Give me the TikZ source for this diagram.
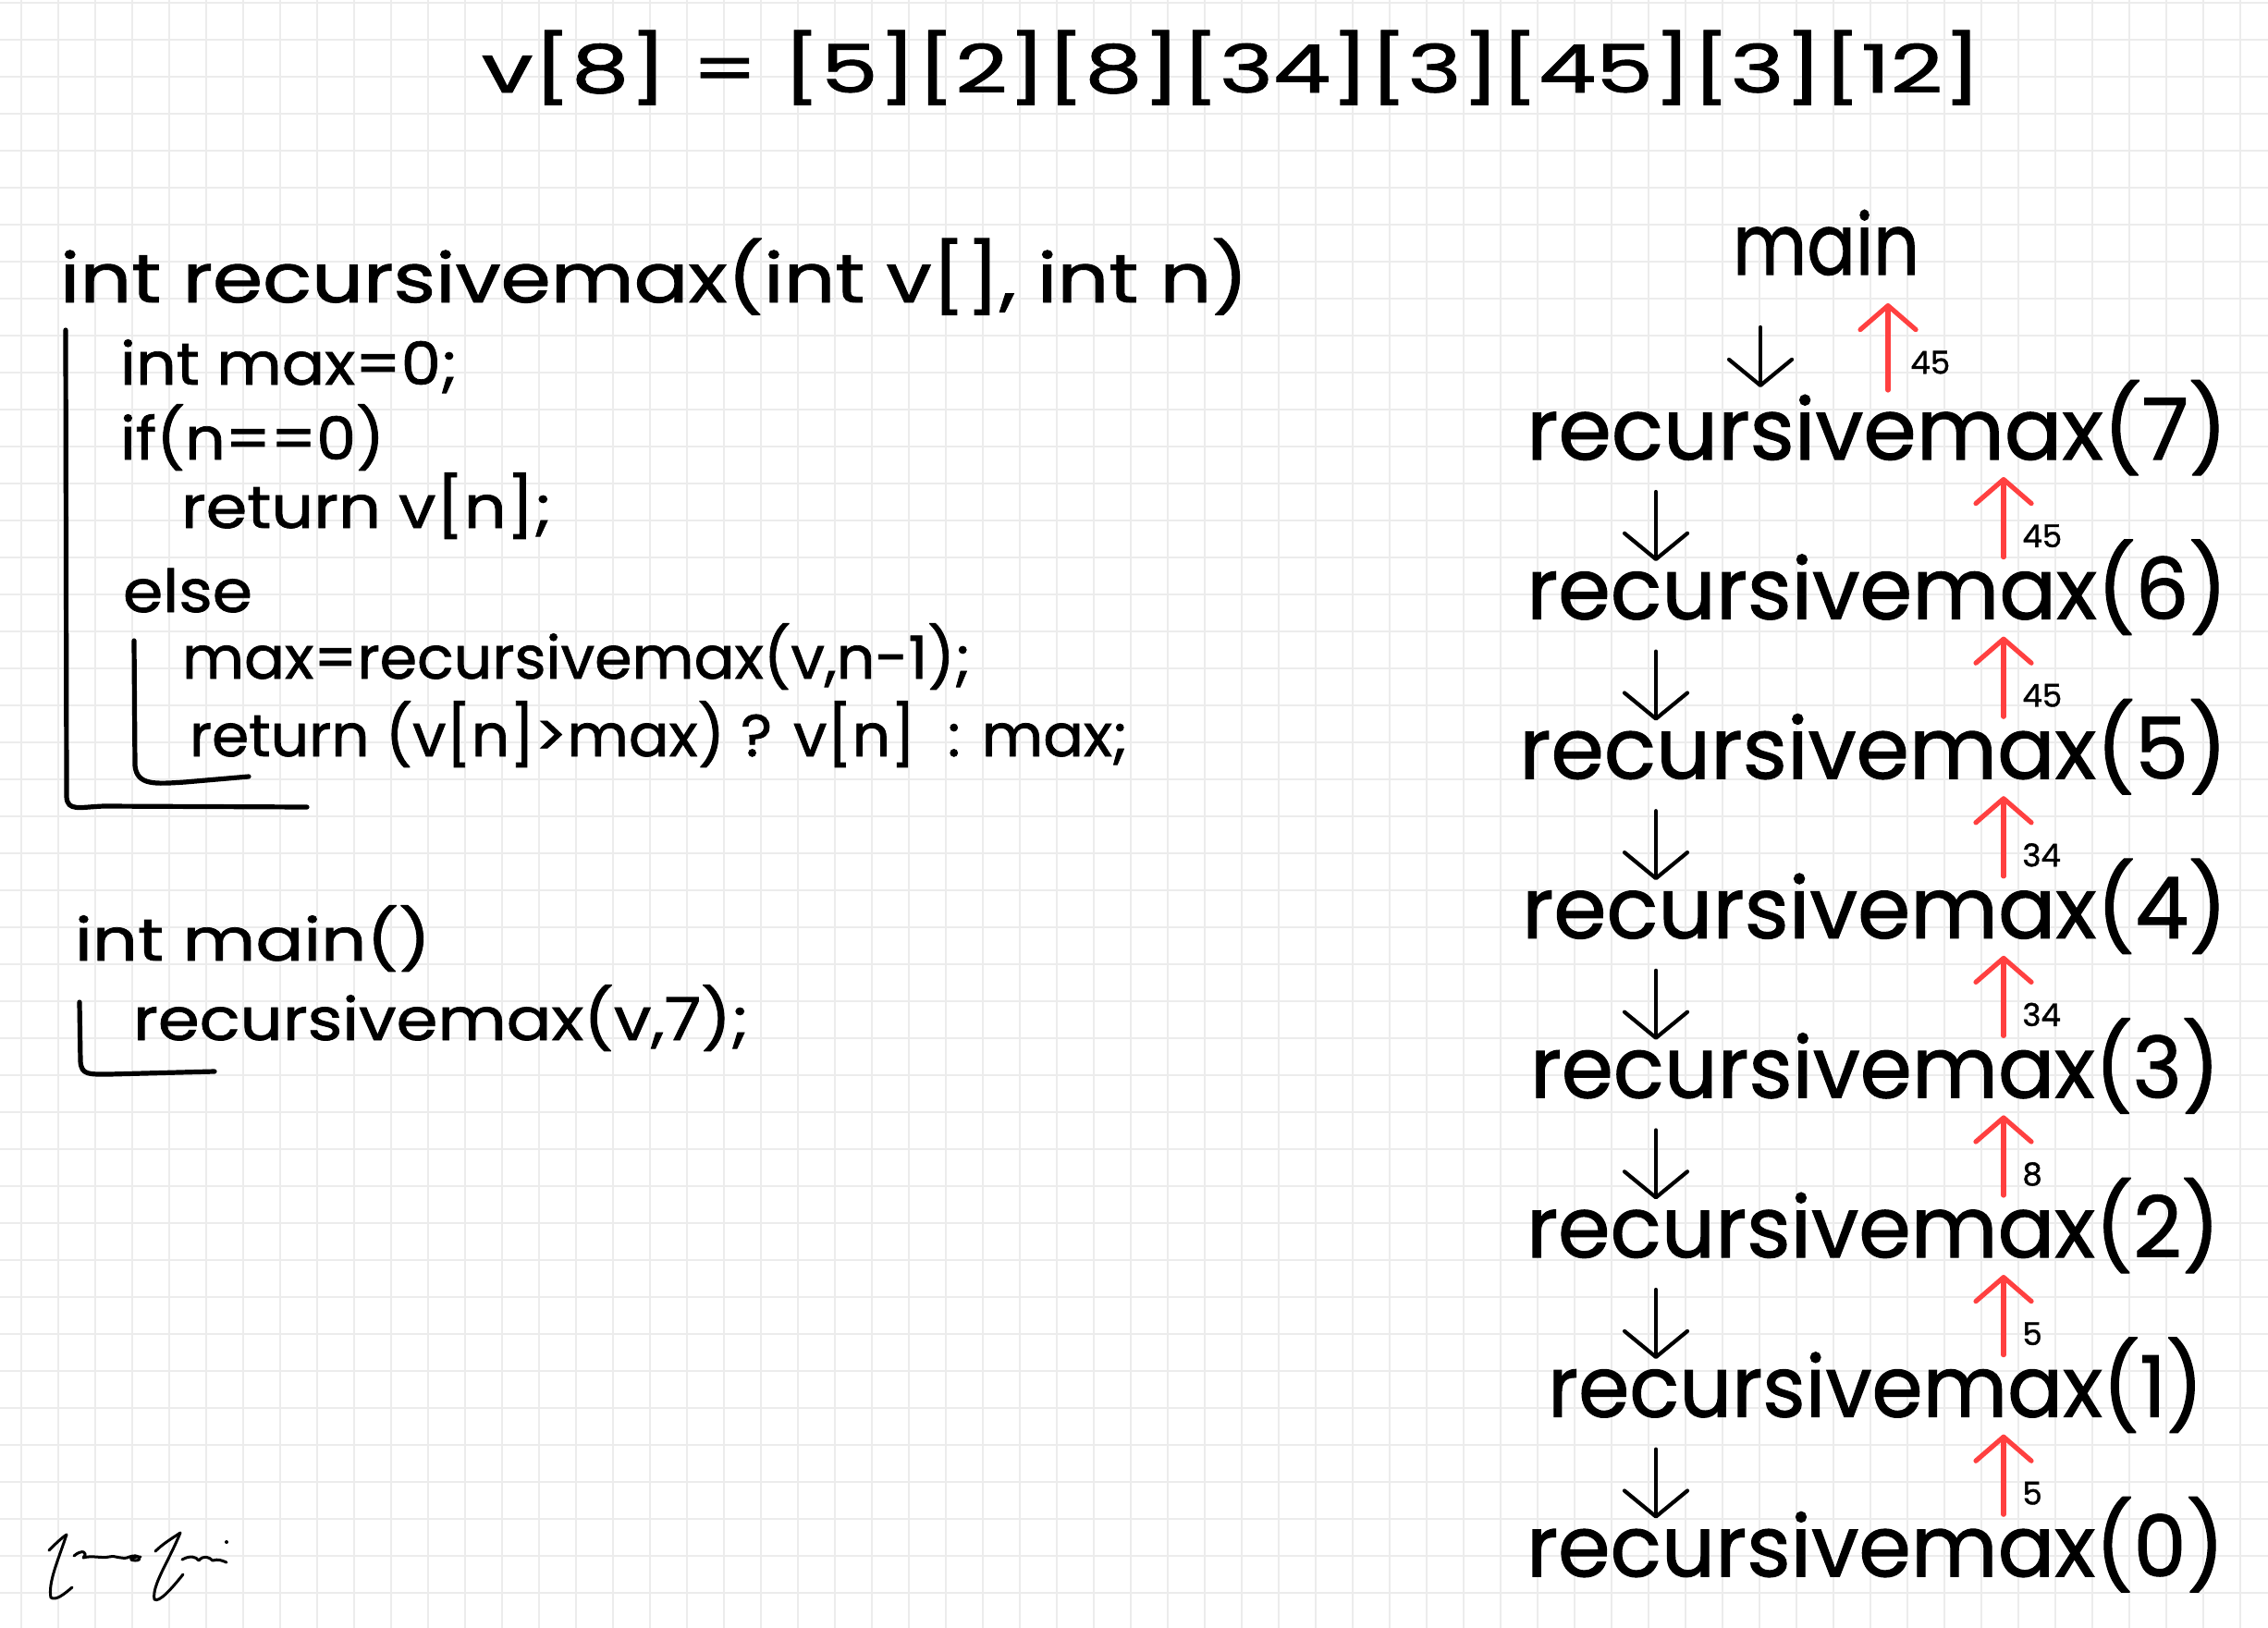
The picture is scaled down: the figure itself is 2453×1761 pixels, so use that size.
\documentclass[tikz,border=0pt]{standalone}
\usepackage{fontspec}
\setmainfont{Poppins}[FakeBold=1.2]
\usepackage{graphicx}
\usetikzlibrary{arrows.meta}
\definecolor{gridc}{HTML}{ECECEC}
\definecolor{retred}{HTML}{FF4040}
\newcommand\fitw[2]{\resizebox{#1}{\height}{#2}}
\tikzset{
  gridline/.style={draw=gridc, line width=1pt},
  txt/.style={inner sep=0pt, outer sep=0pt, anchor=base west, text=black},
  titletxt/.style={txt, font=\fontsize{36}{40}\selectfont},
  headtxt/.style={txt, font=\fontsize{37}{44}\selectfont},
  codetxt/.style={txt, font=\fontsize{32}{38}\selectfont},
  calltxt/.style={txt, font=\fontsize{46}{54}\selectfont},
  labtxt/.style={inner sep=0pt, anchor=west, font=\fontsize{17}{20}\selectfont},
  brk/.style={line width=2.6pt, line cap=round, line join=round},
  callarrow/.style={line width=2.1pt, line cap=round,
    -{Straight Barb[length=14pt, width=34pt, round]}},
  retarrow/.style={draw=retred, line width=2.6pt, line cap=round,
    -{Straight Barb[length=13pt, width=30pt, round]}},
  sig/.style={line width=1.5pt, line cap=round, line join=round},
}
\begin{document}
\begin{tikzpicture}[x=0.5pt, y=-0.5pt]
\useasboundingbox (0,0) rectangle (2453,1761);
\fill[white] (0,0) rectangle (2453,1761);
% grid
\foreach \i in {0,...,61} \draw[gridline] ({23+40*\i},0) -- ({23+40*\i},1761);
\foreach \j in {0,...,44} \draw[gridline] (0,{3+40*\j}) -- (2453,{3+40*\j});

% title
\node[titletxt] (title) at (521,100) {\fitw{811pt}{v[8] = [5][2][8][34][3][45][3][12]}};

% function code
\node[headtxt] (head) at (65,327) {\fitw{642.5pt}{int recursivemax(int v[], int n)}};
\node[codetxt] (l1) at (130,416) {\fitw{182.5pt}{int max=0;}};
\node[codetxt] (l2) at (130,497) {\fitw{143pt}{if(n==0)}};
\node[codetxt] (l3) at (196,571) {\fitw{200.5pt}{return v[n];}};
\node[codetxt] (l4) at (133,662) {\fitw{70pt}{else}};
\node[codetxt] (l5) at (197,734) {\fitw{426.5pt}{max=recursivemax(v,n-1);}};
\node[codetxt] (l6) at (205,818) {\fitw{507.5pt}{return (v[n]>max) ? v[n] \ : max;}};

\draw[brk] (71,357) -- (72,862) .. controls (73,878) and (86,873) .. (112,872) -- (332,873);
\draw[brk] (145,693) -- (146,828) .. controls (148,850) and (168,848) .. (200,846) -- (269,840);

% main code
\node[codetxt] (m1) at (81,1039) {\fitw{192.5pt}{int main()}};
\node[codetxt] (m2) at (144,1125) {\fitw{333pt}{recursivemax(v,7);}};
\draw[brk] (86,1084) -- (87,1148) .. controls (88,1163) and (96,1162) .. (118,1162) -- (232,1159);

% call stack
\node[calltxt] (main) at (1874,297) {\fitw{101pt}{main}};
\node[calltxt] (r7) at (1651,497.0) {\fitw{379pt}{recursivemax(7)}};
\node[calltxt] (r6) at (1651,669.6) {\fitw{379pt}{recursivemax(6)}};
\node[calltxt] (r5) at (1643,842.2) {\fitw{383pt}{recursivemax(5)}};
\node[calltxt] (r4) at (1646,1014.8) {\fitw{381.5pt}{recursivemax(4)}};
\node[calltxt] (r3) at (1655,1187.4) {\fitw{373pt}{recursivemax(3)}};
\node[calltxt] (r2) at (1651,1360.0) {\fitw{375pt}{recursivemax(2)}};
\node[calltxt] (r1) at (1674,1532.6) {\fitw{354.5pt}{recursivemax(1)}};
\node[calltxt] (r0) at (1651,1705.2) {\fitw{377.5pt}{recursivemax(0)}};

% main <-> r7
\coordinate (cdm) at (1904,354);
\coordinate (cem) at (1904,419);
\draw[callarrow] (cdm) -- (cem);
\coordinate (rsm) at (2042,422);
\coordinate (rtm) at (2042,328);
\draw[retarrow] (rsm) -- (rtm);
\node[labtxt] (labm) at (2066,392) {45};

\foreach \i/\v in {0/45,1/45,2/34,3/34,4/8,5/5,6/5} {
  \pgfmathsetmacro\ba{497+172.6*\i}
  \pgfmathsetmacro\bb{497+172.6*(\i+1)}
  \coordinate (cd\i) at (1791,\ba+35);
  \coordinate (ce\i) at (1791,\ba+110);
  \draw[callarrow] (cd\i) -- (ce\i);
  \coordinate (rs\i) at (2167,\bb-67);
  \coordinate (rt\i) at (2167,\ba+19);
  \draw[retarrow] (rs\i) -- (rt\i);
  \node[labtxt] (lab\i) at (2187,\bb-90) {\v};
}

% signature
\draw[sig] (53,1677) .. controls (60,1670) and (66,1664) .. (72,1660);
\draw[sig] (72,1660) .. controls (62,1690) and (52,1712) .. (55,1728) .. controls (60,1732) and (70,1724) .. (78,1717);
\draw[sig] (80,1683) .. controls (88,1676) and (96,1678) .. (90,1685) .. controls (100,1682) and (110,1686) .. (118,1684)
  .. controls (126,1682) and (132,1688) .. (140,1684) .. controls (150,1680) and (156,1688) .. (146,1688) .. controls (140,1688) and (138,1684) .. (152,1684);
\draw[sig] (168,1678) .. controls (176,1670) and (186,1664) .. (195,1658);
\draw[sig] (195,1658) .. controls (182,1690) and (164,1715) .. (167,1730) .. controls (172,1734) and (186,1718) .. (198,1703);
\draw[sig] (197,1687) .. controls (206,1682) and (212,1684) .. (215,1688) .. controls (220,1682) and (226,1684) .. (230,1688) .. controls (236,1686) and (240,1688) .. (245,1690);
\fill (245,1668) circle (2);
\end{tikzpicture}
\end{document}
